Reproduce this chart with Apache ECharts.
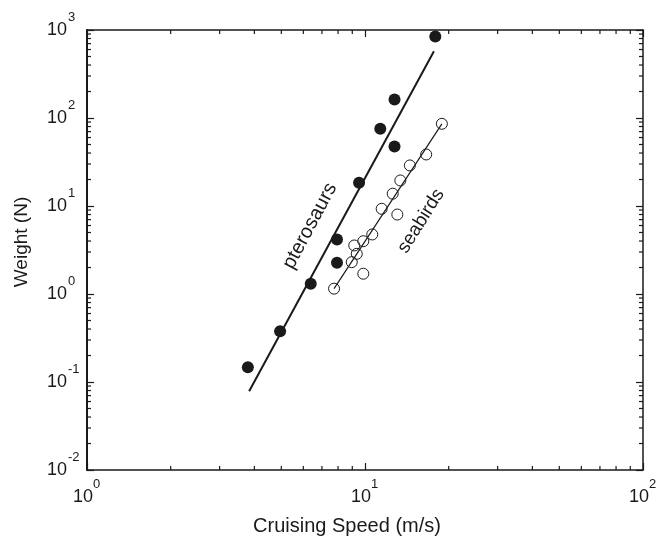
<!DOCTYPE html>
<html>
<head>
<meta charset="utf-8">
<script src="https://cdn.jsdelivr.net/npm/echarts@6/dist/echarts.min.js"></script>
<style>
  html, body { margin: 0; padding: 0; background: #fff; }
  #chart { width: 669px; height: 538px; }
</style>
</head>
<body>
<div id="chart"></div>
<script>
// pterosaurs (filled dots): [speed m/s, weight N]
const pteroSpeed = [3.79, 4.95, 6.38, 7.93, 7.93, 9.52, 11.35, 12.77, 12.77, 17.9];
const pteroWeight = [0.147, 0.378, 1.31, 2.26, 4.16, 18.4, 75.4, 162, 47.5, 844];
// seabirds (open dots)
const birdSpeed = [7.74, 9.86, 8.96, 9.34, 9.15, 9.86, 10.62, 11.48, 13.07, 12.58, 13.4, 14.5, 16.6, 18.9];
const birdWeight = [1.15, 1.70, 2.30, 2.86, 3.56, 3.98, 4.75, 9.3, 8.0, 13.8, 19.5, 28.9, 38.5, 85.9];
// fitted lines (end points)
const pteroFitSpeed = [3.83, 17.7];
const pteroFitWeight = [0.0786, 574];
const birdFitSpeed = [7.74, 18.9];
const birdFitWeight = [1.15, 85.9];
// axis ranges
const xRange = [1, 100];
const yRange = [0.01, 1000];
const minorX = [2, 3, 4, 5, 6, 7, 8, 9, 20, 30, 40, 50, 60, 70, 80, 90];
const minorY = [];
[0.01, 0.1, 1, 10, 100].forEach(d => { for (let k = 2; k <= 9; k++) minorY.push(+(d * k).toPrecision(3)); });

const font = 'Liberation Sans, Arial, Helvetica, sans-serif';
const ink = '#1a1a1a';

const chart = echarts.init(document.getElementById('chart'));

const expOf = v => String(Math.round(Math.log10(v)));

const baseAxis = (extra) => Object.assign({
  type: 'log',
  logBase: 10,
  axisLine: { lineStyle: { color: ink, width: 1.5 } },
  axisTick: { inside: true, length: 7, lineStyle: { color: ink, width: 1.2 } },
  splitLine: { show: false },
  minorTick: { show: false },
  minorSplitLine: { show: false }
}, extra);

// axis that only carries the superscript exponents
const expAxis = (extra, label) => Object.assign({
  type: 'log',
  logBase: 10,
  axisLine: { show: false },
  axisTick: { show: false },
  splitLine: { show: false },
  axisLabel: Object.assign({ formatter: expOf, fontSize: 13, fontFamily: font, color: ink }, label)
}, extra);

chart.setOption({
  animation: false,
  backgroundColor: '#fff',
  grid: { left: 87, right: 26, top: 30, bottom: 68, outerBoundsMode: 'none', containLabel: false },
  xAxis: [
    baseAxis({
      min: xRange[0], max: xRange[1],
      name: 'Cruising Speed (m/s)',
      nameLocation: 'middle',
      nameGap: 46,
      nameTextStyle: { fontSize: 20, fontFamily: font, color: ink, padding: [0, 36, 0, 0] },
      axisLabel: { formatter: () => '10', fontSize: 18, fontFamily: font, color: ink, margin: 18, padding: [0, 8, 0, 0] }
    }),
    baseAxis({ min: xRange[0], max: xRange[1], position: 'top', axisLabel: { show: false } }),
    expAxis({ min: xRange[0], max: xRange[1], position: 'bottom' }, { align: 'left', margin: 8, padding: [0, 0, 0, 6] })
  ],
  yAxis: [
    baseAxis({
      min: yRange[0], max: yRange[1],
      name: 'Weight (N)',
      nameLocation: 'middle',
      nameGap: 56,
      nameTextStyle: { fontSize: 19, fontFamily: font, color: ink, padding: [0, 0, 0, 16] },
      axisLine: { lineStyle: { color: ink, width: 2 } },
      axisLabel: { formatter: () => '10', fontSize: 18, fontFamily: font, color: ink, margin: 20 }
    }),
    baseAxis({ min: yRange[0], max: yRange[1], position: 'right', axisLabel: { show: false } }),
    expAxis({ min: yRange[0], max: yRange[1], position: 'left' }, { align: 'left', margin: 19, verticalAlign: 'bottom', lineHeight: 25 })
  ],
  graphic: [
    { type: 'text', x: 310, y: 226, rotation: 62 * Math.PI / 180,
      style: { text: 'pterosaurs', font: '20px ' + font, fill: ink, align: 'center', verticalAlign: 'middle' } },
    { type: 'text', x: 421, y: 221, rotation: 58 * Math.PI / 180,
      style: { text: 'seabirds', font: '19px ' + font, fill: ink, align: 'center', verticalAlign: 'middle' } }
  ],
  series: [
    {
      type: 'line',
      data: pteroFitSpeed.map((x, i) => [x, pteroFitWeight[i]]),
      symbol: 'none',
      lineStyle: { color: ink, width: 2 },
      z: 2
    },
    {
      type: 'line',
      data: birdFitSpeed.map((x, i) => [x, birdFitWeight[i]]),
      symbol: 'none',
      lineStyle: { color: ink, width: 1.2 },
      z: 2
    },
    {
      type: 'scatter',
      data: pteroSpeed.map((x, i) => [x, pteroWeight[i]]),
      symbol: 'circle',
      symbolSize: 12,
      itemStyle: { color: ink, opacity: 1 },
      z: 3
    },
    {
      type: 'scatter',
      data: birdSpeed.map((x, i) => [x, birdWeight[i]]),
      symbol: 'circle',
      symbolSize: 11,
      itemStyle: { color: 'rgba(255,255,255,0)', borderColor: ink, borderWidth: 1, opacity: 1 },
      z: 3
    },
    {
      // minor ticks on all four sides, placed through the log axes
      type: 'custom',
      silent: true,
      clip: false,
      data: minorX.map(v => ['x', v]).concat(minorY.map(v => ['y', v])),
      encode: { x: -1, y: -1 },
      renderItem: (params, api) => {
        const kind = minorX.length > params.dataIndex ? 'x' : 'y';
        const v = kind === 'x' ? minorX[params.dataIndex] : minorY[params.dataIndex - minorX.length];
        const len = 4;
        const st = { stroke: ink, lineWidth: 1.2 };
        if (kind === 'x') {
          const b = api.coord([v, yRange[0]]);
          const t = api.coord([v, yRange[1]]);
          return { type: 'group', children: [
            { type: 'line', shape: { x1: b[0], y1: b[1], x2: b[0], y2: b[1] - len }, style: st },
            { type: 'line', shape: { x1: t[0], y1: t[1], x2: t[0], y2: t[1] + len }, style: st }
          ] };
        }
        const l = api.coord([xRange[0], v]);
        const r = api.coord([xRange[1], v]);
        return { type: 'group', children: [
          { type: 'line', shape: { x1: l[0], y1: l[1], x2: l[0] + len, y2: l[1] }, style: st },
          { type: 'line', shape: { x1: r[0], y1: r[1], x2: r[0] - len, y2: r[1] }, style: st }
        ] };
      },
      z: 1
    }
  ]
});
</script>
</body>
</html>
